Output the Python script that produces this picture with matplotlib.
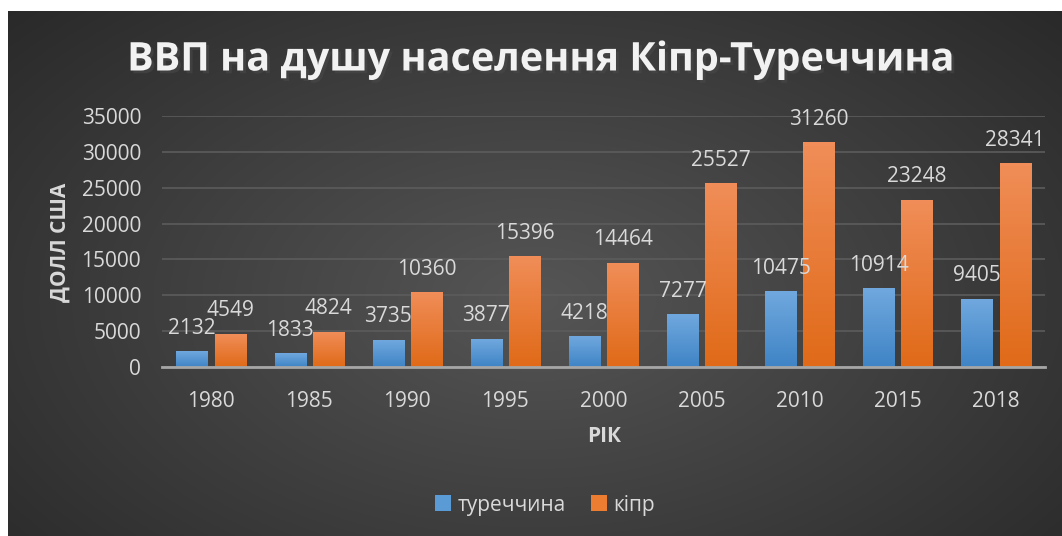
import numpy as np
import matplotlib
matplotlib.use('Agg')
import matplotlib.pyplot as plt
import matplotlib.patheffects as pe
from matplotlib.colors import to_rgb
from matplotlib.patches import Patch

plt.rcParams['font.family'] = ['Open Sans', 'DejaVu Sans']

# дані з графіка
years = ['1980', '1985', '1990', '1995', '2000', '2005', '2010', '2015', '2018']
turkey = [2132, 1833, 3735, 3877, 4218, 7277, 10475, 10914, 9405]
cyprus = [4549, 4824, 10360, 15396, 14464, 25527, 31260, 23248, 28341]
series_names = ['туреччина', 'кіпр']

title = 'ВВП на душу населення Кіпр-Туреччина'
ylabel = 'ДОЛЛ США'
xlabel = 'РІК'

txt = '#d9d9d9'
W, H = 1062, 536

fig = plt.figure(figsize=(W / 100, H / 100), dpi=100, facecolor='white')

# фон з радіальним градієнтом
bg = fig.add_axes([8 / W, 0, 1 - 8 / W, (H - 11) / H])
bg.set_axis_off()
yy, xx = np.mgrid[0:1:300j, 0:1:600j]
r = np.sqrt(((xx - 0.5) / 0.75) ** 2 + ((yy - 0.55) / 0.9) ** 2)
r = np.clip(r, 0, 1)
v = 0.335 - 0.19 * r
bg.imshow(np.dstack([v, v, v]), extent=(0, 1, 0, 1), aspect='auto', origin='upper')
bg.set_xlim(0, 1)
bg.set_ylim(0, 1)

ax = fig.add_axes([162 / W, 1 - 367 / H, (1045 - 162) / W, (367 - 116) / H])
ax.patch.set_alpha(0)

x = np.arange(len(years))
w = 0.316
off = 0.195


def grad_bars(xs, vals, top, bottom):
    bars = ax.bar(xs, vals, w, color=bottom, zorder=2)
    t = np.array(to_rgb(top))
    b = np.array(to_rgb(bottom))
    k = np.linspace(0, 1, 64)[:, None]
    img = (t * (1 - k) + b * k)[:, None, :]
    for bar in bars:
        x0 = bar.get_x()
        ax.imshow(img, extent=(x0, x0 + w, 0, bar.get_height()), aspect='auto',
                  zorder=3, origin='upper')
    return bars


grad_bars(x - off, turkey, '#70a8de', '#3f84c6')
grad_bars(x + off, cyprus, '#f08d58', '#e06a18')

for xs, vals in [(x - off, turkey), (x + off, cyprus)]:
    for xi, val in zip(xs, vals):
        ax.annotate(str(val), (xi, val), xytext=(0, 13), textcoords='offset points',
                    ha='center', va='baseline', fontsize=15, color=txt, zorder=5)

ax.set_xlim(-0.5, len(years) - 0.5)
ax.set_ylim(0, 35000)
ax.set_yticks(range(0, 35001, 5000))
ax.set_xticks(x)
ax.set_xticklabels(years)
ax.tick_params(length=0, labelsize=15, labelcolor=txt)
ax.tick_params(axis='x', pad=17)
ax.tick_params(axis='y', pad=15)
ax.grid(axis='y', color='#5c5c5c', linewidth=1.2, zorder=0)
ax.set_axisbelow(True)
for s in ['top', 'right', 'left']:
    ax.spines[s].set_visible(False)
ax.spines['bottom'].set_color('#a6a6a6')
ax.spines['bottom'].set_linewidth(2)
ax.spines['bottom'].set_zorder(4)

fig.text(60 / W, 1 - 242 / H, ylabel, rotation=90, ha='center', va='center',
         fontsize=15, fontweight='bold', color=txt)
fig.text(604 / W, 1 - 437 / H, xlabel, ha='center', va='center',
         fontsize=15, fontweight='bold', color=txt)

fig.text(541 / W, 1 - 60 / H, title, ha='center', va='center', fontsize=28.5,
         fontweight='bold', color='#f2f2f2',
         path_effects=[pe.SimplePatchShadow(offset=(2, -2), alpha=0.6), pe.Normal()])

handles = [Patch(facecolor='#5b9bd5'), Patch(facecolor='#ed7d31')]
fig.legend(handles, series_names, loc='center', bbox_to_anchor=(545 / W, 1 - 505 / H),
           ncol=2, frameon=False, fontsize=15, labelcolor=txt, handlelength=0.8,
           handleheight=0.8, handletextpad=0.3, columnspacing=1.2)

fig.savefig('out.png', dpi=100, facecolor='white')
